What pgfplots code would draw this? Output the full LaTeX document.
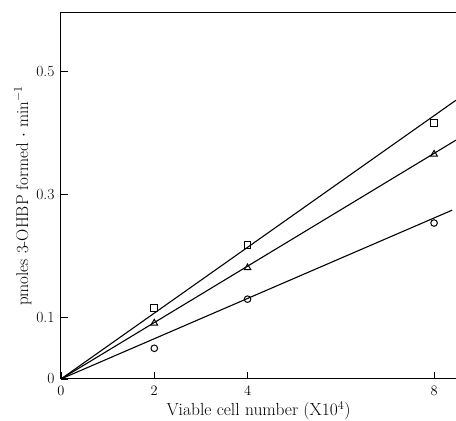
\documentclass[border=0pt]{standalone}
\usepackage{pgfplots}
\pgfplotsset{compat=1.18}
\begin{document}
\begin{tikzpicture}
\begin{axis}[
  scale only axis,
  width=395pt, height=366pt,
  xmin=0, xmax=8.47, ymin=0, ymax=0.596,
  axis line style={draw=none},
  xtick={0,2,4,8}, ytick={0,0.1,0.3,0.5},
  xtick pos=bottom, ytick pos=left,
  tick align=inside, major tick length=7pt,
  yticklabels={0,0.1,0.3,0.5},
  tick label style={font=\fontsize{15.5}{17}\selectfont},
  xticklabel style={yshift=-4pt},
  yticklabel style={xshift=-3pt},
  xlabel style={font=\fontsize{17.5}{19}\selectfont, yshift=1pt},
  ylabel style={font=\fontsize{17}{19}\selectfont, yshift=-2pt},
  xlabel={Viable cell number (X10$^{4}$)},
  ylabel={pmoles 3-OHBP formed $\cdot$ min$^{-1}$},
  tick style={draw=black, line width=0.9pt},
  clip=false,
]
\coordinate (sw) at (rel axis cs:0,0);
\coordinate (ne) at (rel axis cs:1,1);
\draw[black, line width=1pt] (rel axis cs:1,1) -- (rel axis cs:0,1) -- (rel axis cs:0,0) -- (rel axis cs:1,0);
\addplot[black, line width=1.1pt] coordinates {(0,0) (8.47,0.454)};
\addplot[black, line width=1.1pt] coordinates {(0,0) (8.47,0.389)};
\addplot[black, line width=1.1pt] coordinates {(0,0) (8.39,0.275)};
\addplot[only marks, mark=square, mark size=3.3pt, mark options={fill=white, line width=1pt}] coordinates {(2,0.116) (4,0.218) (8,0.417)};
\addplot[only marks, mark=triangle, mark size=3.8pt, mark options={fill=white, line width=1pt}] coordinates {(2,0.091) (4,0.181) (8,0.366)};
\addplot[only marks, mark=o, mark size=3.3pt, mark options={fill=white, line width=1pt}] coordinates {(2,0.050) (4,0.130) (8,0.254)};
\end{axis}
\pgfresetboundingbox
\path ([shift={(-61pt,-42pt)}]sw) rectangle ([shift={(0pt,13pt)}]ne);
\end{tikzpicture}
\end{document}
